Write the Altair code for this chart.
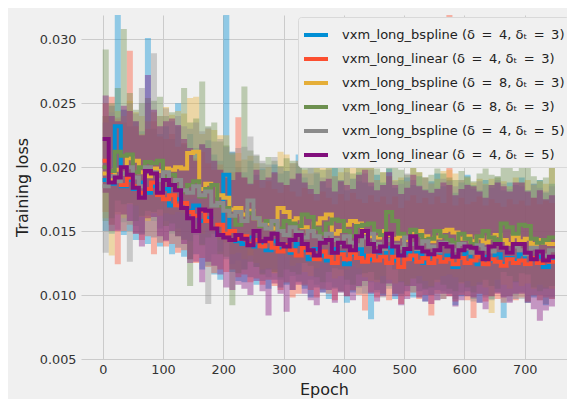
import altair as alt
import pandas as pd

epochs = list(range(0, 751, 10))

EQ = "\u2002=\u2002"
series_names = [
    f"vxm_long_bspline (δ{EQ}4, δₜ{EQ}3)",
    f"vxm_long_linear (δ{EQ}4, δₜ{EQ}3)",
    f"vxm_long_bspline (δ{EQ}8, δₜ{EQ}3)",
    f"vxm_long_linear (δ{EQ}8, δₜ{EQ}3)",
    f"vxm_long_bspline (δ{EQ}4, δₜ{EQ}5)",
    f"vxm_long_linear (δ{EQ}4, δₜ{EQ}5)",
]
colors = ["#008fd5", "#fc4f30", "#e5ae38", "#6d904f", "#8b8b8b", "#810f7c"]

# ---- smoothed (mean) values ----
mean_blue = [0.0190,0.0187,0.0232,0.0185,0.0190,0.0183,0.0188,0.0180,0.0185,0.0178,
             0.0183,0.0170,0.0175,0.0168,0.0166,0.0170,0.0158,0.0160,0.0152,0.0147,
             0.0194,0.0150,0.0142,0.0140,0.0145,0.0138,0.0140,0.0135,0.0142,0.0136,
             0.0138,0.0133,0.0140,0.0135,0.0128,0.0136,0.0131,0.0127,0.0136,0.0133,
             0.0124,0.0132,0.0136,0.0131,0.0128,0.0134,0.0130,0.0137,0.0127,0.0131,
             0.0133,0.0128,0.0133,0.0125,0.0130,0.0134,0.0127,0.0131,0.0122,0.0129,
             0.0133,0.0127,0.0124,0.0130,0.0127,0.0132,0.0124,0.0129,0.0127,0.0132,
             0.0124,0.0128,0.0130,0.0122,0.0128,0.0128]
mean_red = [0.0205,0.0196,0.0190,0.0186,0.0192,0.0185,0.0180,0.0183,0.0188,0.0178,
            0.0175,0.0178,0.0170,0.0172,0.0165,0.0162,0.0166,0.0158,0.0152,0.0155,
            0.0148,0.0150,0.0144,0.0146,0.0140,0.0143,0.0138,0.0142,0.0137,0.0134,
            0.0139,0.0135,0.0131,0.0137,0.0133,0.0128,0.0134,0.0130,0.0125,0.0132,
            0.0128,0.0133,0.0129,0.0126,0.0131,0.0127,0.0130,0.0125,0.0130,0.0122,
            0.0128,0.0131,0.0126,0.0129,0.0125,0.0130,0.0126,0.0128,0.0124,0.0129,
            0.0125,0.0127,0.0130,0.0124,0.0128,0.0126,0.0123,0.0128,0.0125,0.0127,
            0.0124,0.0129,0.0125,0.0127,0.0126,0.0126]
mean_yellow = [0.0195,0.0190,0.0198,0.0195,0.0207,0.0205,0.0196,0.0193,0.0199,0.0197,
               0.0199,0.0198,0.0200,0.0199,0.0211,0.0212,0.0183,0.0187,0.0186,0.0178,
               0.0176,0.0167,0.0168,0.0163,0.0166,0.0160,0.0155,0.0156,0.0152,0.0168,
               0.0165,0.0158,0.0160,0.0153,0.0150,0.0156,0.0160,0.0163,0.0148,0.0150,
               0.0155,0.0158,0.0156,0.0149,0.0146,0.0145,0.0150,0.0147,0.0144,0.0146,
               0.0143,0.0148,0.0150,0.0146,0.0142,0.0145,0.0150,0.0151,0.0149,0.0144,
               0.0146,0.0142,0.0145,0.0141,0.0145,0.0147,0.0143,0.0140,0.0146,0.0142,
               0.0144,0.0140,0.0143,0.0141,0.0140,0.0140]
mean_green = [0.0200,0.0197,0.0212,0.0209,0.0210,0.0196,0.0200,0.0204,0.0203,0.0205,
              0.0192,0.0194,0.0184,0.0181,0.0186,0.0189,0.0177,0.0183,0.0186,0.0170,
              0.0168,0.0162,0.0155,0.0158,0.0164,0.0160,0.0154,0.0158,0.0156,0.0152,
              0.0158,0.0156,0.0154,0.0163,0.0161,0.0152,0.0148,0.0156,0.0159,0.0158,
              0.0150,0.0146,0.0154,0.0155,0.0156,0.0150,0.0147,0.0165,0.0158,0.0148,
              0.0145,0.0151,0.0147,0.0143,0.0144,0.0150,0.0146,0.0143,0.0141,0.0148,
              0.0144,0.0140,0.0146,0.0150,0.0145,0.0143,0.0156,0.0153,0.0148,0.0155,
              0.0154,0.0144,0.0141,0.0143,0.0145,0.0145]
mean_gray = [0.0185,0.0193,0.0189,0.0195,0.0200,0.0192,0.0185,0.0200,0.0196,0.0190,
             0.0196,0.0186,0.0190,0.0182,0.0180,0.0185,0.0178,0.0181,0.0170,0.0172,
             0.0166,0.0162,0.0165,0.0158,0.0174,0.0160,0.0155,0.0152,0.0158,0.0150,
             0.0147,0.0153,0.0149,0.0145,0.0150,0.0146,0.0142,0.0148,0.0143,0.0140,
             0.0146,0.0141,0.0139,0.0145,0.0148,0.0140,0.0136,0.0143,0.0139,0.0137,
             0.0145,0.0140,0.0136,0.0142,0.0138,0.0134,0.0141,0.0139,0.0135,0.0140,
             0.0137,0.0133,0.0139,0.0136,0.0134,0.0140,0.0137,0.0133,0.0138,0.0135,
             0.0132,0.0137,0.0134,0.0131,0.0135,0.0135]
mean_purple = [0.0222,0.0188,0.0192,0.0200,0.0194,0.0184,0.0176,0.0197,0.0195,0.0180,
               0.0190,0.0186,0.0182,0.0168,0.0160,0.0150,0.0167,0.0166,0.0152,0.0147,
               0.0145,0.0143,0.0147,0.0144,0.0139,0.0150,0.0142,0.0144,0.0148,0.0140,
               0.0138,0.0143,0.0147,0.0140,0.0135,0.0131,0.0141,0.0143,0.0133,0.0141,
               0.0138,0.0135,0.0146,0.0150,0.0140,0.0134,0.0138,0.0148,0.0138,0.0131,
               0.0136,0.0146,0.0137,0.0134,0.0132,0.0135,0.0140,0.0138,0.0130,0.0135,
               0.0138,0.0137,0.0133,0.0128,0.0138,0.0140,0.0137,0.0133,0.0140,0.0140,
               0.0133,0.0128,0.0134,0.0127,0.0130,0.0130]

# ---- band upper edges ----
hi_blue = [0.0240,0.0248,0.0360,0.0245,0.0232,0.0236,0.0228,0.0301,0.0230,0.0226,
           0.0232,0.0222,0.0250,0.0218,0.0226,0.0215,0.0218,0.0221,0.0210,0.0205,
           0.0360,0.0212,0.0200,0.0196,0.0205,0.0194,0.0199,0.0190,0.0202,0.0195,
           0.0197,0.0190,0.0210,0.0192,0.0186,0.0195,0.0189,0.0184,0.0221,0.0190,
           0.0182,0.0191,0.0196,0.0188,0.0185,0.0194,0.0188,0.0199,0.0184,0.0190,
           0.0192,0.0186,0.0193,0.0183,0.0189,0.0195,0.0185,0.0190,0.0180,0.0188,
           0.0194,0.0186,0.0182,0.0190,0.0186,0.0193,0.0182,0.0188,0.0186,0.0192,
           0.0182,0.0187,0.0190,0.0180,0.0187,0.0187]
hi_red = [0.0250,0.0255,0.0238,0.0235,0.0291,0.0232,0.0226,0.0230,0.0236,0.0224,
          0.0222,0.0226,0.0216,0.0219,0.0210,0.0207,0.0212,0.0203,0.0198,0.0202,
          0.0193,0.0196,0.0239,0.0192,0.0186,0.0190,0.0184,0.0189,0.0183,0.0180,
          0.0186,0.0181,0.0177,0.0184,0.0179,0.0174,0.0181,0.0176,0.0171,0.0179,
          0.0174,0.0180,0.0175,0.0172,0.0178,0.0173,0.0177,0.0171,0.0177,0.0168,
          0.0174,0.0178,0.0172,0.0176,0.0171,0.0177,0.0172,0.0360,0.0170,0.0176,
          0.0171,0.0173,0.0177,0.0170,0.0175,0.0172,0.0169,0.0175,0.0171,0.0174,
          0.0170,0.0176,0.0171,0.0174,0.0172,0.0172]
hi_yellow = [0.0240,0.0236,0.0244,0.0240,0.0252,0.0243,0.0240,0.0236,0.0243,0.0240,
             0.0247,0.0241,0.0244,0.0242,0.0254,0.0255,0.0226,0.0230,0.0229,0.0225,
             0.0225,0.0210,0.0211,0.0206,0.0209,0.0203,0.0198,0.0200,0.0195,0.0212,
             0.0210,0.0203,0.0205,0.0198,0.0195,0.0201,0.0206,0.0212,0.0193,0.0196,
             0.0200,0.0204,0.0201,0.0218,0.0219,0.0190,0.0196,0.0193,0.0190,0.0192,
             0.0189,0.0249,0.0196,0.0192,0.0187,0.0191,0.0197,0.0198,0.0195,0.0190,
             0.0192,0.0188,0.0191,0.0187,0.0191,0.0193,0.0189,0.0185,0.0192,0.0188,
             0.0190,0.0186,0.0189,0.0187,0.0212,0.0212]
hi_green = [0.0292,0.0250,0.0262,0.0308,0.0258,0.0245,0.0250,0.0254,0.0252,0.0255,
            0.0240,0.0243,0.0232,0.0262,0.0235,0.0238,0.0267,0.0232,0.0235,0.0220,
            0.0217,0.0211,0.0205,0.0263,0.0213,0.0209,0.0203,0.0208,0.0205,0.0201,
            0.0207,0.0205,0.0203,0.0212,0.0210,0.0201,0.0198,0.0206,0.0209,0.0208,
            0.0200,0.0195,0.0223,0.0205,0.0206,0.0199,0.0196,0.0214,0.0208,0.0198,
            0.0194,0.0200,0.0196,0.0192,0.0194,0.0199,0.0195,0.0192,0.0190,0.0197,
            0.0193,0.0189,0.0195,0.0199,0.0194,0.0192,0.0205,0.0202,0.0197,0.0204,
            0.0203,0.0193,0.0190,0.0192,0.0211,0.0211]
hi_gray = [0.0235,0.0243,0.0239,0.0245,0.0250,0.0242,0.0262,0.0250,0.0289,0.0240,
           0.0246,0.0236,0.0240,0.0232,0.0230,0.0235,0.0228,0.0231,0.0220,0.0222,
           0.0216,0.0212,0.0215,0.0216,0.0224,0.0210,0.0205,0.0202,0.0208,0.0200,
           0.0197,0.0203,0.0205,0.0195,0.0200,0.0196,0.0192,0.0198,0.0193,0.0190,
           0.0196,0.0191,0.0189,0.0195,0.0198,0.0190,0.0186,0.0193,0.0189,0.0187,
           0.0195,0.0190,0.0186,0.0192,0.0188,0.0184,0.0191,0.0189,0.0185,0.0190,
           0.0187,0.0183,0.0189,0.0186,0.0184,0.0190,0.0187,0.0183,0.0188,0.0185,
           0.0182,0.0187,0.0184,0.0181,0.0185,0.0185]
hi_purple = [0.0256,0.0240,0.0236,0.0248,0.0244,0.0236,0.0225,0.0272,0.0245,0.0232,
             0.0236,0.0238,0.0233,0.0222,0.0215,0.0205,0.0218,0.0215,0.0205,0.0198,
             0.0192,0.0190,0.0196,0.0192,0.0187,0.0198,0.0190,0.0192,0.0196,0.0188,
             0.0186,0.0191,0.0195,0.0188,0.0183,0.0179,0.0189,0.0191,0.0181,0.0189,
             0.0186,0.0183,0.0194,0.0198,0.0188,0.0182,0.0186,0.0196,0.0186,0.0179,
             0.0184,0.0194,0.0185,0.0182,0.0180,0.0183,0.0188,0.0186,0.0178,0.0183,
             0.0186,0.0185,0.0181,0.0176,0.0186,0.0188,0.0185,0.0181,0.0188,0.0188,
             0.0181,0.0176,0.0182,0.0175,0.0178,0.0178]

# ---- band lower edges ----
lo_blue = [0.0150,0.0148,0.0165,0.0147,0.0150,0.0143,0.0148,0.0140,0.0145,0.0138,
           0.0143,0.0132,0.0137,0.0130,0.0128,0.0132,0.0120,0.0123,0.0116,0.0112,
           0.0150,0.0118,0.0111,0.0110,0.0114,0.0108,0.0111,0.0105,0.0112,0.0106,
           0.0108,0.0104,0.0110,0.0105,0.0098,0.0106,0.0102,0.0097,0.0106,0.0103,
           0.0094,0.0102,0.0106,0.0101,0.0081,0.0104,0.0100,0.0107,0.0097,0.0101,
           0.0103,0.0098,0.0103,0.0095,0.0100,0.0104,0.0097,0.0101,0.0092,0.0099,
           0.0103,0.0097,0.0094,0.0100,0.0097,0.0102,0.0082,0.0099,0.0097,0.0102,
           0.0094,0.0098,0.0100,0.0092,0.0098,0.0098]
lo_red = [0.0165,0.0155,0.0124,0.0150,0.0155,0.0148,0.0143,0.0146,0.0132,0.0141,
          0.0138,0.0140,0.0133,0.0135,0.0128,0.0125,0.0129,0.0122,0.0117,0.0120,
          0.0118,0.0120,0.0114,0.0116,0.0110,0.0113,0.0108,0.0112,0.0107,0.0104,
          0.0110,0.0098,0.0101,0.0108,0.0104,0.0098,0.0105,0.0101,0.0096,0.0103,
          0.0099,0.0104,0.0100,0.0088,0.0102,0.0098,0.0101,0.0096,0.0101,0.0093,
          0.0099,0.0102,0.0097,0.0100,0.0084,0.0101,0.0097,0.0099,0.0095,0.0100,
          0.0096,0.0082,0.0101,0.0095,0.0099,0.0097,0.0094,0.0099,0.0096,0.0098,
          0.0095,0.0100,0.0096,0.0098,0.0097,0.0097]
lo_yellow = [0.0160,0.0131,0.0163,0.0160,0.0171,0.0170,0.0161,0.0158,0.0164,0.0162,
             0.0164,0.0163,0.0165,0.0164,0.0175,0.0176,0.0148,0.0152,0.0151,0.0143,
             0.0141,0.0132,0.0133,0.0128,0.0131,0.0125,0.0120,0.0121,0.0117,0.0133,
             0.0130,0.0123,0.0125,0.0118,0.0115,0.0121,0.0125,0.0128,0.0113,0.0115,
             0.0120,0.0123,0.0121,0.0114,0.0111,0.0110,0.0115,0.0112,0.0109,0.0111,
             0.0108,0.0113,0.0115,0.0111,0.0107,0.0110,0.0115,0.0116,0.0114,0.0109,
             0.0111,0.0107,0.0110,0.0106,0.0086,0.0112,0.0108,0.0105,0.0111,0.0107,
             0.0109,0.0105,0.0108,0.0106,0.0105,0.0105]
lo_green = [0.0158,0.0160,0.0174,0.0171,0.0172,0.0158,0.0162,0.0166,0.0165,0.0167,
            0.0154,0.0156,0.0146,0.0143,0.0107,0.0151,0.0139,0.0145,0.0148,0.0132,
            0.0130,0.0092,0.0117,0.0120,0.0126,0.0122,0.0116,0.0120,0.0118,0.0114,
            0.0120,0.0118,0.0116,0.0125,0.0123,0.0114,0.0110,0.0118,0.0121,0.0120,
            0.0112,0.0108,0.0116,0.0117,0.0118,0.0112,0.0109,0.0127,0.0120,0.0110,
            0.0107,0.0113,0.0109,0.0105,0.0106,0.0112,0.0108,0.0105,0.0103,0.0110,
            0.0106,0.0102,0.0108,0.0112,0.0107,0.0105,0.0118,0.0115,0.0110,0.0117,
            0.0116,0.0106,0.0103,0.0105,0.0107,0.0107]
lo_gray = [0.0133,0.0155,0.0151,0.0157,0.0126,0.0154,0.0147,0.0162,0.0158,0.0152,
           0.0158,0.0148,0.0152,0.0144,0.0142,0.0147,0.0140,0.0093,0.0132,0.0134,
           0.0128,0.0124,0.0127,0.0120,0.0136,0.0122,0.0117,0.0114,0.0120,0.0112,
           0.0109,0.0115,0.0111,0.0107,0.0112,0.0108,0.0104,0.0110,0.0105,0.0102,
           0.0108,0.0103,0.0101,0.0107,0.0110,0.0102,0.0098,0.0105,0.0101,0.0099,
           0.0107,0.0102,0.0098,0.0104,0.0100,0.0096,0.0103,0.0101,0.0097,0.0102,
           0.0099,0.0095,0.0101,0.0098,0.0096,0.0102,0.0099,0.0095,0.0100,0.0097,
           0.0094,0.0099,0.0096,0.0093,0.0097,0.0097]
lo_purple = [0.0180,0.0150,0.0150,0.0163,0.0158,0.0148,0.0138,0.0160,0.0161,0.0146,
             0.0142,0.0150,0.0146,0.0140,0.0125,0.0126,0.0110,0.0126,0.0123,0.0116,
             0.0106,0.0104,0.0108,0.0105,0.0100,0.0111,0.0103,0.0084,0.0109,0.0101,
             0.0087,0.0104,0.0108,0.0101,0.0096,0.0092,0.0102,0.0104,0.0094,0.0102,
             0.0099,0.0096,0.0107,0.0111,0.0101,0.0095,0.0099,0.0109,0.0099,0.0092,
             0.0097,0.0107,0.0098,0.0095,0.0093,0.0096,0.0101,0.0099,0.0091,0.0096,
             0.0099,0.0098,0.0094,0.0089,0.0099,0.0101,0.0098,0.0094,0.0101,0.0101,
             0.0094,0.0089,0.0080,0.0088,0.0091,0.0091]

means = [mean_blue, mean_red, mean_yellow, mean_green, mean_gray, mean_purple]
his = [hi_blue, hi_red, hi_yellow, hi_green, hi_gray, hi_purple]
los = [lo_blue, lo_red, lo_yellow, lo_green, lo_gray, lo_purple]

rows = []
for k, name in enumerate(series_names):
    for i, e in enumerate(epochs):
        rows.append({"epoch": e, "series": name, "order": k,
                     "mean": means[k][i], "lo": los[k][i], "hi": his[k][i]})
df = pd.DataFrame(rows)

FONT = "DejaVu Sans"
color_scale = alt.Scale(domain=series_names, range=colors)
legend = alt.Legend(
    title=None, orient="none", legendX=217, legendY=2,
    symbolType="stroke", symbolSize=576, symbolStrokeWidth=4, symbolOpacity=1,
    labelFont=FONT, labelFontSize=13, labelColor="#222222", labelLimit=400,
    labelOffset=12, fillColor="#f0f0f0", strokeColor="#d9d9d9",
    cornerRadius=3, padding=4, rowPadding=2,
)

x_enc = alt.X("epoch:Q", scale=alt.Scale(domain=[-36, 770], nice=False, zero=False),
              axis=alt.Axis(title="Epoch", values=[0, 100, 200, 300, 400, 500, 600, 700],
                            titleY=35, titleBaseline="alphabetic", labelPadding=4))
y_scale = alt.Scale(domain=[0.005, 0.0319], nice=False, zero=False)

bands = alt.Chart(df).mark_area(interpolate="step-after", opacity=0.4, clip=True).encode(
    x=x_enc,
    y=alt.Y("lo:Q", scale=y_scale,
            axis=alt.Axis(title="Training loss", format=".3f",
                          values=[0.005, 0.010, 0.015, 0.020, 0.025, 0.030])),
    y2="hi:Q",
    color=alt.Color("series:N", scale=color_scale, legend=legend),
    order="order:Q",
)

lines = alt.Chart(df).mark_line(interpolate="step-after", strokeWidth=4, clip=True).encode(
    x=x_enc,
    y=alt.Y("mean:Q", scale=y_scale),
    color=alt.Color("series:N", scale=color_scale, legend=legend),
    order="epoch:Q",
)

chart = alt.layer(bands, lines).properties(
    width=486, height=344,
    autosize=alt.AutoSizeParams(type="none"),
    padding={"left": 73, "top": 7, "right": 0, "bottom": 48},
    background="#f0f0f0",
).configure_view(stroke=None, fill="#f0f0f0").configure_axis(
    labelFont=FONT, titleFont=FONT, labelFontSize=12.8, titleFontSize=16,
    labelColor="#333333", titleColor="#222222", titleFontWeight="normal",
    grid=True, gridColor="#cbcbcb", gridWidth=1, domain=False, ticks=False,
    labelPadding=6,
).configure_axisY(labelPadding=5, titlePadding=9)

chart.save("out.html", embed_options={"renderer": "svg", "actions": False})
